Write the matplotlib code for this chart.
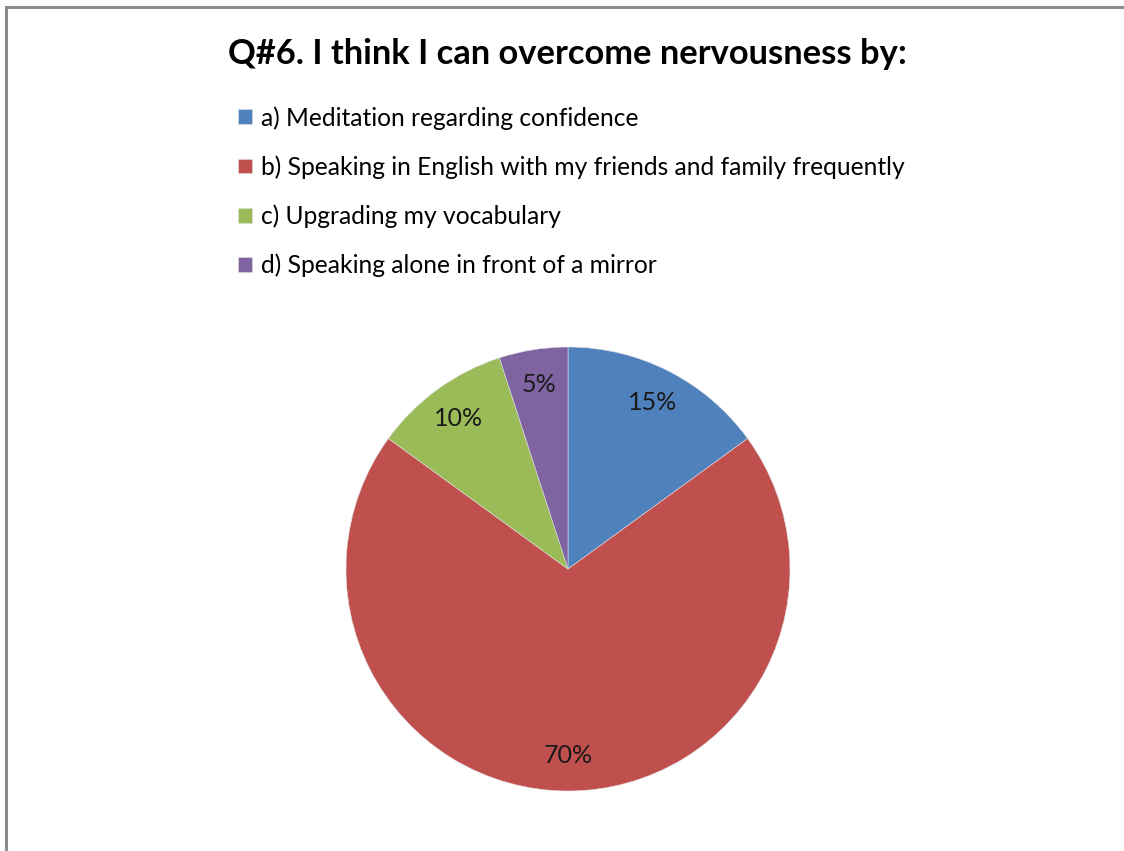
import matplotlib.pyplot as plt
from matplotlib.patches import Rectangle

plt.rcParams['font.family'] = ['Lato', 'DejaVu Sans']

labels = ['a) Meditation regarding confidence',
          'b) Speaking in English with my friends and family frequently',
          'c) Upgrading my vocabulary',
          'd) Speaking alone in front of a mirror']
shares = [15, 70, 10, 5]
colors = ['#4F81BD', '#C0504D', '#9BBB59', '#8064A2']

W, H = 1124, 851
fig = plt.figure(figsize=(W / 100, H / 100), dpi=100)

# grey frame, cut off at right and bottom
fig.add_artist(Rectangle((6 / W, -0.1), 1.2, 1 - 7 / H + 0.1, transform=fig.transFigure,
                         fill=False, edgecolor='#8c8c8c', linewidth=2.2))

fig.text(567 / W, 1 - 54 / H, 'Q#6. I think I can overcome nervousness by:',
         ha='center', va='center', fontsize=24.8, fontweight='bold')

ax = fig.add_axes([346 / W, 60 / H, 444 / W, 444 / H])
wedges, texts, autotexts = ax.pie(shares, colors=colors, startangle=90, counterclock=False,
                                  autopct='%d%%', pctdistance=0.84,
                                  wedgeprops=dict(edgecolor='#e0e0e0', linewidth=0.4),
                                  textprops=dict(fontsize=18, color='#1a1a1a'))
ax.set_xlim(-1, 1)
ax.set_ylim(-1, 1)
ax.set_aspect('equal')
ax.axis('off')

fig.legend(wedges, labels, loc='upper left', bbox_to_anchor=(238 / W, 1 - 106 / H),
           frameon=False, fontsize=17.7, handlelength=0.55, handleheight=0.55,
           handletextpad=0.4, labelspacing=1.04, borderpad=0, borderaxespad=0)

fig.savefig('out.png', dpi=100)
